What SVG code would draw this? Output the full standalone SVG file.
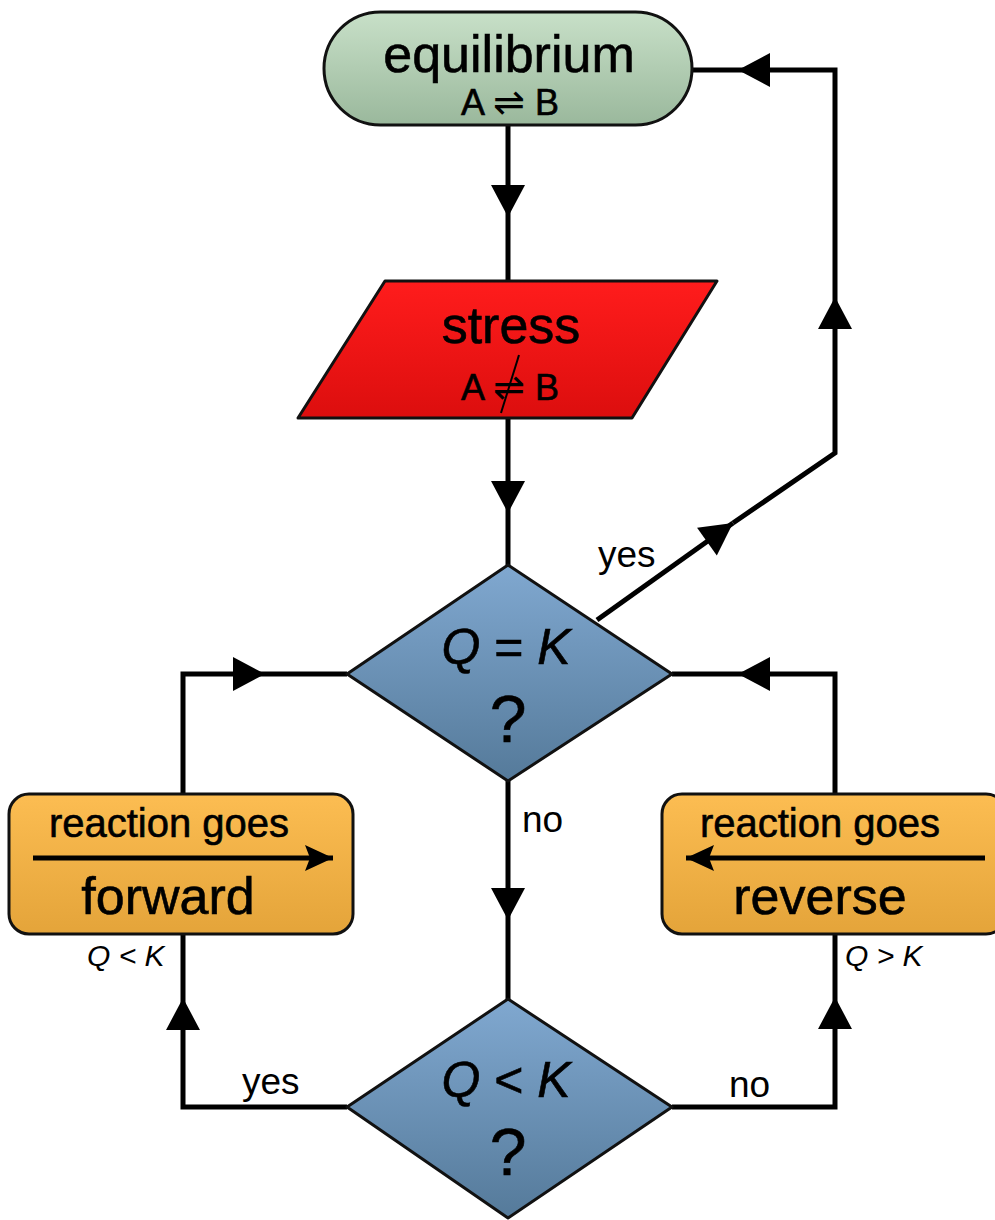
<svg xmlns="http://www.w3.org/2000/svg" width="995" height="1220" viewBox="0 0 995 1220">
<defs>
<linearGradient id="gGreen" x1="0" y1="0" x2="0" y2="1"><stop offset="0" stop-color="#c8e0c8"/><stop offset="1" stop-color="#9ab89c"/></linearGradient>
<linearGradient id="gRed" x1="0" y1="0" x2="0" y2="1"><stop offset="0" stop-color="#ff1c1c"/><stop offset="1" stop-color="#dc0e0e"/></linearGradient>
<linearGradient id="gBlue" x1="0" y1="0" x2="0" y2="1"><stop offset="0" stop-color="#80a8d0"/><stop offset="1" stop-color="#557a9a"/></linearGradient>
<linearGradient id="gOrange" x1="0" y1="0" x2="0" y2="1"><stop offset="0" stop-color="#fcbd52"/><stop offset="1" stop-color="#e4a43a"/></linearGradient>
<marker id="ah" markerUnits="userSpaceOnUse" markerWidth="34" markerHeight="36" refX="32" refY="17" orient="auto" overflow="visible"><path d="M0,0 L32,17 L0,34 Z" fill="#000"/></marker>
<marker id="ahs" markerUnits="userSpaceOnUse" markerWidth="30" markerHeight="28" refX="28" refY="13" orient="auto" overflow="visible"><path d="M0,0 L28,13 L0,26 L5,13 Z" fill="#000"/></marker>
</defs>
<style>
.node{stroke:#111;stroke-width:3;stroke-linejoin:round}
.t{font-family:"Liberation Sans",Arial,"DejaVu Sans",sans-serif;fill:#000;text-anchor:middle;stroke:#000;stroke-width:0.6}
.c{fill:none;stroke:#000;stroke-width:5;stroke-linejoin:miter}
.lbl{font-family:"Liberation Sans",Arial,sans-serif;font-size:37px;fill:#000}
.ql{font-family:"Liberation Sans",Arial,sans-serif;font-size:30px;font-style:italic;fill:#000}
.i{font-style:italic}
.h{font-family:"DejaVu Sans",sans-serif;stroke-width:0}
</style>
<g id="connectors">
<path class="c" d="M508,125 L508,217" marker-end="url(#ah)"/>
<path class="c" d="M508,217 L508,281"/>
<path class="c" d="M508,418 L508,513" marker-end="url(#ah)"/>
<path class="c" d="M508,513 L508,565"/>
<path class="c" d="M597,620 L733,523" marker-end="url(#ah)"/>
<path class="c" d="M733,523 L835,453 L835,297" marker-end="url(#ah)"/>
<path class="c" d="M835,297 L835,70 L738,70" marker-end="url(#ah)"/>
<path class="c" d="M738,70 L692,70"/>
<path class="c" d="M183,794 L183,674 L265,674" marker-end="url(#ah)"/>
<path class="c" d="M265,674 L347,674"/>
<path class="c" d="M835,794 L835,674 L738,674" marker-end="url(#ah)"/>
<path class="c" d="M738,674 L672,674"/>
<path class="c" d="M508,781 L508,920" marker-end="url(#ah)"/>
<path class="c" d="M508,920 L508,999"/>
<path class="c" d="M347,1107 L183,1107 L183,998" marker-end="url(#ah)"/>
<path class="c" d="M183,998 L183,934"/>
<path class="c" d="M672,1107 L835,1107 L835,997" marker-end="url(#ah)"/>
<path class="c" d="M835,997 L835,934"/>
<text class="lbl" x="598" y="567">yes</text>
<text class="lbl" x="522" y="832">no</text>
<text class="lbl" x="242" y="1094">yes</text>
<text class="lbl" x="729" y="1097">no</text>
<text class="ql" x="87" y="966">Q &lt; K</text>
<text class="ql" x="845" y="966">Q &gt; K</text>
</g>
<g id="equilibrium">
<rect class="node" x="324" y="12" width="368" height="113" rx="56.5" fill="url(#gGreen)"/>
<text class="t" x="509" y="72" font-size="52">equilibrium</text>
<text class="t" x="510" y="115" font-size="36">A <tspan class="h" font-size="38">⇌</tspan> B</text>
</g>
<g id="stress">
<polygon class="node" points="385,281 717,281 632,418 298,418" fill="url(#gRed)"/>
<text class="t" x="511" y="343" font-size="52">stress</text>
<text class="t" x="510" y="400" font-size="36">A <tspan class="h" font-size="38">⇌</tspan> B</text>
<line x1="519" y1="355" x2="501" y2="413" stroke="#000" stroke-width="2"/>
</g>
<g id="q-eq-k">
<polygon class="node" points="508,565 672,674 508,781 347,674" fill="url(#gBlue)"/>
<text class="t" x="506" y="664" font-size="50"><tspan class="i">Q</tspan> = <tspan class="i">K</tspan></text>
<text class="t" x="508" y="742" font-size="66">?</text>
</g>
<g id="forward">
<rect class="node" x="9" y="794" width="344" height="140" rx="20" fill="url(#gOrange)"/>
<text class="t" x="169" y="837" font-size="40">reaction goes</text>
<path d="M33,858 L333,858" stroke="#000" stroke-width="5" fill="none" marker-end="url(#ahs)"/>
<text class="t" x="168" y="914" font-size="52">forward</text>
</g>
<g id="reverse">
<rect class="node" x="662" y="794" width="344" height="140" rx="20" fill="url(#gOrange)"/>
<text class="t" x="820" y="837" font-size="40">reaction goes</text>
<path d="M985,858 L686,858" stroke="#000" stroke-width="5" fill="none" marker-end="url(#ahs)"/>
<text class="t" x="820" y="914" font-size="52">reverse</text>
</g>
<g id="q-lt-k">
<polygon class="node" points="508,999 672,1107 508,1218 347,1107" fill="url(#gBlue)"/>
<text class="t" x="506" y="1097" font-size="50"><tspan class="i">Q</tspan> &lt; <tspan class="i">K</tspan></text>
<text class="t" x="508" y="1175" font-size="66">?</text>
</g>
</svg>
